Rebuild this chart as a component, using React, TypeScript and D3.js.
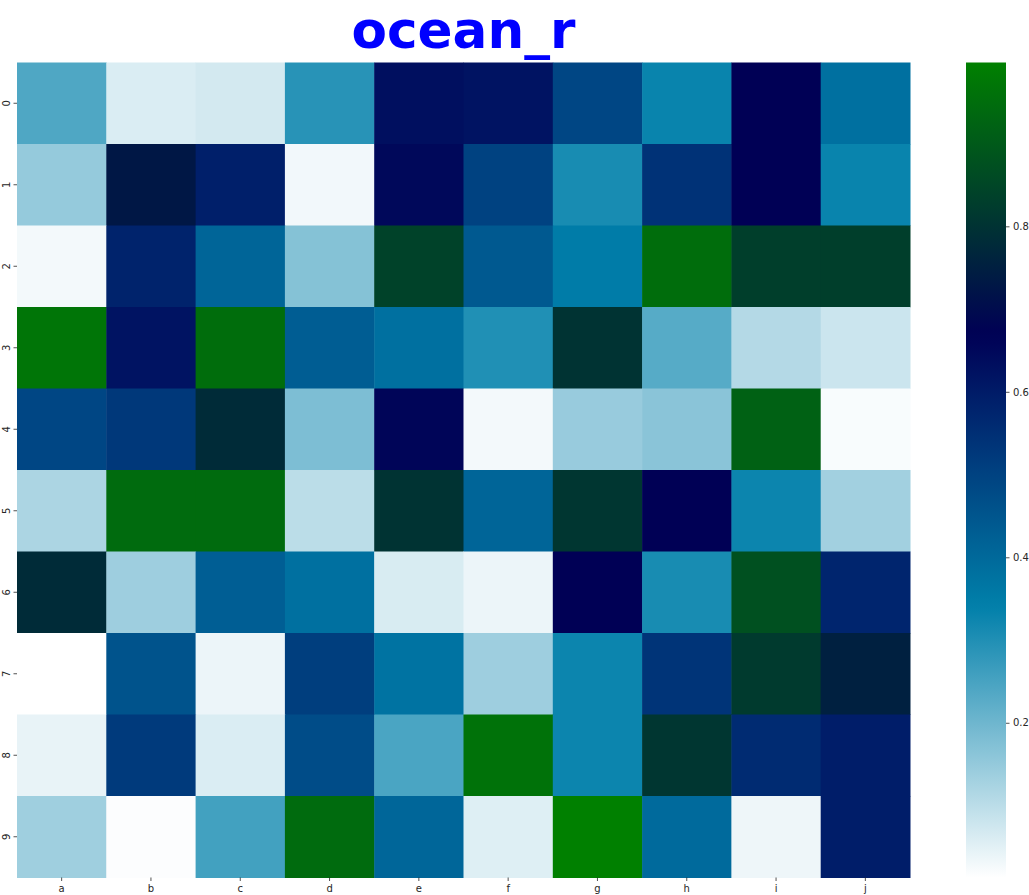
import * as d3 from 'd3';
import {useEffect, useRef} from "react";

const columns = ["a", "b", "c", "d", "e", "f", "g", "h", "i", "j"];
const rows = ["0", "1", "2", "3", "4", "5", "6", "7", "8", "9"];

// one array per row
const row0 = [0.24, 0.06, 0.07, 0.29, 0.63, 0.62, 0.49, 0.33, 0.67, 0.38];
const row1 = [0.15, 0.73, 0.59, 0.03, 0.65, 0.50, 0.31, 0.54, 0.67, 0.33];
const row2 = [0.028, 0.58, 0.41, 0.17, 0.84, 0.44, 0.35, 0.95, 0.83, 0.83];
const row3 = [0.97, 0.62, 0.95, 0.43, 0.38, 0.30, 0.80, 0.23, 0.11, 0.08];
const row4 = [0.49, 0.525, 0.78, 0.18, 0.658, 0.028, 0.146, 0.164, 0.92, 0.022];
const row5 = [0.12, 0.944, 0.944, 0.10, 0.80, 0.41, 0.81, 0.67, 0.326, 0.133];
const row6 = [0.78, 0.138, 0.427, 0.38, 0.063, 0.038, 0.67, 0.31, 0.875, 0.575];
const row7 = [0.013, 0.456, 0.038, 0.511, 0.373, 0.138, 0.326, 0.535, 0.82, 0.752];
const row8 = [0.043, 0.52, 0.06, 0.473, 0.246, 0.963, 0.326, 0.81, 0.558, 0.594];
const row9 = [0.136, 0.017, 0.256, 0.944, 0.407, 0.055, 0.998, 0.397, 0.035, 0.594];

const matrix = [row0, row1, row2, row3, row4, row5, row6, row7, row8, row9];

const colorbarTicks = [0.2, 0.4, 0.6, 0.8];
const title = "ocean_r";

// matplotlib "ocean" (gnuplot 23,28,3), reversed
const clip = (v: number) => Math.max(0, Math.min(1, v));
const oceanR = (t: number) => {
    const x = 1 - clip(t);
    const r = clip(3 * x - 2);
    const g = clip(Math.abs((3 * x - 1) / 2));
    const b = clip(x);
    return d3.rgb(r * 255, g * 255, b * 255).toString();
};

export default function App() {
    const svgRef = useRef<SVGSVGElement>(null);

    const width = 1029;
    const height = 895;

    const margin = {top: 62.5, left: 17, right: 119, bottom: 17.5};

    useEffect(() => {
        document.body.style.margin = "0";

        const svg = d3.select(svgRef.current)
            .attr("width", width)
            .attr("height", height);

        svg.selectAll("*").remove();

        const innerW = width - margin.left - margin.right;
        const innerH = height - margin.top - margin.bottom;

        const flat = matrix.flat();
        const [vmin, vmax] = d3.extent(flat) as [number, number];
        const norm = d3.scaleLinear().domain([vmin, vmax]).range([0, 1]);

        const g = svg.append("g")
            .attr("transform", `translate(${margin.left},${margin.top})`);

        const xScale = d3.scaleBand().domain(columns).range([0, innerW]);
        const yScale = d3.scaleBand().domain(rows).range([0, innerH]);

        // cells
        matrix.forEach((vals, ri) => {
            g.selectAll(`.cell-${ri}`)
                .data(vals)
                .enter().append("rect")
                .attr("x", (d, ci) => xScale(columns[ci])!)
                .attr("y", yScale(rows[ri])!)
                .attr("width", xScale.bandwidth() + 0.5)
                .attr("height", yScale.bandwidth() + 0.5)
                .attr("fill", d => oceanR(norm(d)));
        });

        const tickColor = "#262626";

        // axes
        const xAxis = g.append("g")
            .attr("transform", `translate(0,${innerH})`)
            .call(d3.axisBottom(xScale).tickSize(3.5).tickPadding(3.5));
        const yAxis = g.append("g")
            .call(d3.axisLeft(yScale).tickSize(3.5).tickPadding(3));

        [xAxis, yAxis].forEach(ax => {
            ax.select(".domain").remove();
            ax.selectAll("line").attr("stroke", tickColor).attr("stroke-width", 0.8);
            ax.selectAll("text")
                .attr("fill", tickColor)
                .style("font-family", "DejaVu Sans")
                .style("font-size", "10px");
        });

        yAxis.selectAll("text")
            .attr("text-anchor", "middle")
            .attr("x", null)
            .attr("transform", "translate(-10,0) rotate(-90)")
            .attr("dy", "0.32em");

        // colorbar
        const cbX = 966;
        const cbW = 40;
        const cbScale = d3.scaleLinear()
            .domain([vmin, vmax])
            .range([margin.top + innerH, margin.top]);

        const grad = svg.append("defs").append("linearGradient")
            .attr("id", "cb-grad")
            .attr("x1", 0).attr("y1", 1).attr("x2", 0).attr("y2", 0);
        grad.selectAll("stop")
            .data(d3.range(65).map(i => i / 64))
            .enter().append("stop")
            .attr("offset", d => d)
            .attr("stop-color", d => oceanR(d));

        svg.append("rect")
            .attr("x", cbX)
            .attr("y", cbScale(vmax))
            .attr("width", cbW)
            .attr("height", cbScale(vmin) - cbScale(vmax))
            .attr("fill", "url(#cb-grad)");

        const cbAxis = svg.append("g")
            .attr("transform", `translate(${cbX + cbW},0)`)
            .call(d3.axisRight(cbScale).tickValues(colorbarTicks).tickFormat(d3.format(".1f")).tickSize(3.5).tickPadding(3.5));
        cbAxis.select(".domain").remove();
        cbAxis.selectAll("line").attr("stroke", tickColor).attr("stroke-width", 0.8);
        cbAxis.selectAll("text")
            .attr("fill", tickColor)
            .style("font-family", "DejaVu Sans")
            .style("font-size", "10px");

        // title
        svg.append("text")
            .attr("x", margin.left + innerW / 2)
            .attr("y", 48)
            .attr("text-anchor", "middle")
            .attr("fill", "blue")
            .attr("textLength", 224)
            .attr("lengthAdjust", "spacingAndGlyphs")
            .style("font-family", "DejaVu Sans")
            .style("font-weight", "bold")
            .style("font-size", "52px")
            .text(title);

        return () => {};
    }, []);

    return (<div>
        <svg ref={svgRef} style={{display: "block"}}></svg>
    </div>);
}
